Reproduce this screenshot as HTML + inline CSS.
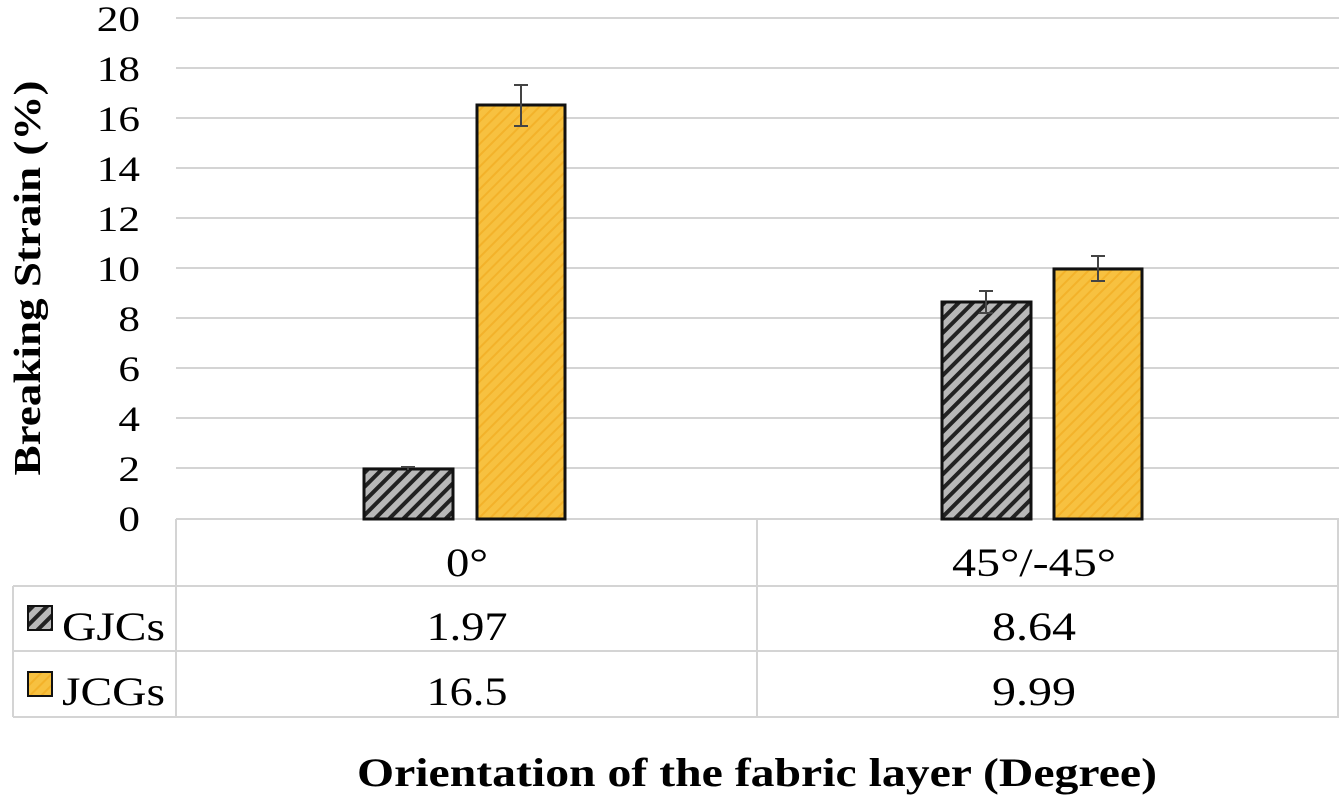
<!DOCTYPE html>
<html><head><style>body{margin:0;background:#fff}svg{display:block}</style></head><body>
<svg width="1339" height="799" viewBox="0 0 1339 799" xmlns="http://www.w3.org/2000/svg" font-family="Liberation Serif, serif">
<defs>
<pattern id="pg" width="10" height="10" patternUnits="userSpaceOnUse" patternTransform="rotate(45)">
<rect width="10" height="10" fill="#b8b8b8"/><rect width="4" height="10" fill="#222"/></pattern>
<pattern id="py" width="8" height="8" patternUnits="userSpaceOnUse" patternTransform="rotate(45)">
<rect width="8" height="8" fill="#f7c140"/><rect width="2" height="8" fill="#f3b22a"/></pattern>
</defs>
<g stroke="#d4d4d4" stroke-width="2">
<line x1="176" y1="18" x2="1339" y2="18"/><line x1="176" y1="68" x2="1339" y2="68"/>
<line x1="176" y1="118" x2="1339" y2="118"/><line x1="176" y1="168" x2="1339" y2="168"/>
<line x1="176" y1="218" x2="1339" y2="218"/><line x1="176" y1="268" x2="1339" y2="268"/>
<line x1="176" y1="318" x2="1339" y2="318"/><line x1="176" y1="368" x2="1339" y2="368"/>
<line x1="176" y1="418" x2="1339" y2="418"/><line x1="176" y1="468" x2="1339" y2="468"/>
<line x1="176" y1="519" x2="1339" y2="519"/>
<line x1="13" y1="586" x2="1339" y2="586"/><line x1="13" y1="651" x2="1339" y2="651"/><line x1="13" y1="717" x2="1339" y2="717"/>
<line x1="176" y1="519" x2="176" y2="717"/><line x1="757" y1="519" x2="757" y2="717"/><line x1="1338" y1="519" x2="1338" y2="717"/>
<line x1="13" y1="586" x2="13" y2="717"/>
</g>
<g font-size="36" text-anchor="end" fill="#000" transform="translate(140,0) scale(1.2,1) translate(-140,0)">
<text x="140" y="31">20</text><text x="140" y="81">18</text><text x="140" y="131">16</text><text x="140" y="181">14</text><text x="140" y="231">12</text><text x="140" y="281">10</text><text x="140" y="331">8</text><text x="140" y="381">6</text><text x="140" y="431">4</text><text x="140" y="481">2</text><text x="140" y="531">0</text>
</g>
<text transform="translate(40,278) rotate(-90)" font-size="38" font-weight="bold" text-anchor="middle" textLength="395" lengthAdjust="spacingAndGlyphs">Breaking Strain (%)</text>
<g stroke="#111" stroke-width="3">
<rect x="364" y="469" width="89" height="50" fill="url(#pg)"/>
<rect x="477" y="105" width="88" height="414" fill="url(#py)"/>
<rect x="942" y="302" width="89" height="217" fill="url(#pg)"/>
<rect x="1054" y="269" width="88" height="250" fill="url(#py)"/>
</g>
<g stroke="#444" stroke-width="2">
<line x1="408" y1="467" x2="408" y2="470"/><line x1="401" y1="467" x2="415" y2="467"/>
<line x1="521" y1="85" x2="521" y2="126"/><line x1="514" y1="85" x2="528" y2="85"/><line x1="514" y1="126" x2="528" y2="126"/>
<line x1="986" y1="291" x2="986" y2="313"/><line x1="979" y1="291" x2="993" y2="291"/><line x1="979" y1="313" x2="993" y2="313"/>
<line x1="1098" y1="256" x2="1098" y2="281"/><line x1="1091" y1="256" x2="1105" y2="256"/><line x1="1091" y1="281" x2="1105" y2="281"/>
</g>
<g font-size="40" text-anchor="middle">
<text x="467" y="576" textLength="42" lengthAdjust="spacingAndGlyphs">0°</text><text x="1034" y="576" textLength="164" lengthAdjust="spacingAndGlyphs">45°/-45°</text>
<text x="467" y="640" textLength="81" lengthAdjust="spacingAndGlyphs">1.97</text><text x="1034" y="640" textLength="84" lengthAdjust="spacingAndGlyphs">8.64</text>
<text x="467" y="705" textLength="81" lengthAdjust="spacingAndGlyphs">16.5</text><text x="1034" y="705" textLength="84" lengthAdjust="spacingAndGlyphs">9.99</text>
</g>
<rect x="28" y="606" width="24" height="24" fill="url(#pg)" stroke="#111" stroke-width="2"/>
<rect x="28" y="672" width="24" height="24" fill="url(#py)" stroke="#111" stroke-width="2"/>
<g font-size="40"><text x="62" y="640" textLength="103" lengthAdjust="spacingAndGlyphs">GJCs</text><text x="62" y="705" textLength="103" lengthAdjust="spacingAndGlyphs">JCGs</text></g>
<text x="757" y="786" font-size="40" font-weight="bold" text-anchor="middle" textLength="800" lengthAdjust="spacingAndGlyphs">Orientation of the fabric layer (Degree)</text>
</svg>
</body></html>
